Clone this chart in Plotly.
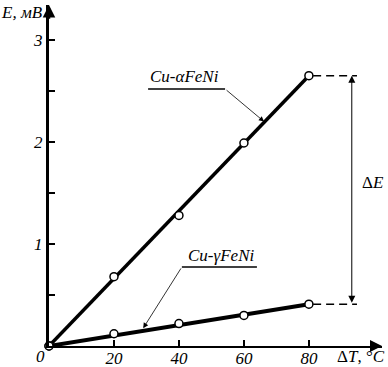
import plotly.graph_objects as go

# Data
dT = [0, 20, 40, 60, 80]
E_alpha = [0.0, 0.68, 1.28, 1.99, 2.65]
E_gamma = [0.0, 0.12, 0.22, 0.30, 0.41]
fit_x = [0, 80]
fit_alpha = [0.0, 2.65]
fit_gamma = [0.0, 0.41]
x_ticks = [20, 40, 60, 80]
y_ticks = [1, 2, 3]
y_minor = [0.5, 1.5, 2.5]
label_alpha = "Cu-αFeNi"
label_gamma = "Cu-γFeNi"

FONT = "Liberation Serif"
X_MAX = 102.5
Y_MAX = 3.343

fig = go.Figure()

# fitted thick lines
fig.add_trace(go.Scatter(x=fit_x, y=fit_alpha, mode="lines",
                         line=dict(color="black", width=3.5), hoverinfo="skip"))
fig.add_trace(go.Scatter(x=fit_x, y=fit_gamma, mode="lines",
                         line=dict(color="black", width=4), hoverinfo="skip"))
# measured points
for ys in (E_alpha, E_gamma):
    fig.add_trace(go.Scatter(x=dT, y=ys, mode="markers", cliponaxis=False,
                             marker=dict(symbol="circle", size=8, color="white",
                                         line=dict(color="black", width=1.5))))

x_end = 94.8
x_arr = 93.2
# dashed extensions
for v in (fit_alpha[-1], fit_gamma[-1]):
    fig.add_shape(type="line", x0=fit_x[-1] + 1.3, x1=x_end, y0=v, y1=v,
                  line=dict(color="black", width=1.5, dash="8px,5px"))

# underlines for labels
fig.add_shape(type="line", x0=30.5, x1=54.2, y0=2.52, y1=2.52, line=dict(color="black", width=1.5))
fig.add_shape(type="line", x0=40.9, x1=64.0, y0=0.775, y1=0.775, line=dict(color="black", width=1.5))

ann = []
# leader arrows
ann.append(dict(x=66.2, y=2.20, ax=54.2, ay=2.52, xref="x", yref="y", axref="x", ayref="y",
                text="", showarrow=True, arrowhead=2, arrowsize=1.3, arrowwidth=0.8, arrowcolor="black"))
ann.append(dict(x=29.0, y=0.175, ax=40.9, ay=0.775, xref="x", yref="y", axref="x", ayref="y",
                text="", showarrow=True, arrowhead=2, arrowsize=1.3, arrowwidth=0.8, arrowcolor="black"))
# double arrow ΔE
ann.append(dict(x=x_arr, y=fit_alpha[-1], ax=x_arr, ay=fit_gamma[-1], xref="x", yref="y", axref="x", ayref="y",
                text="", showarrow=True, arrowhead=2, arrowsize=1.4, arrowwidth=1, arrowcolor="black",
                startarrowhead=2, startarrowsize=1.4, arrowside="end+start"))
# axis arrows
ann.append(dict(x=0, y=Y_MAX, ax=0, ay=Y_MAX - 0.15, xref="x", yref="y", axref="x", ayref="y",
                text="", showarrow=True, arrowhead=2, arrowsize=1.0, arrowwidth=2.5, arrowcolor="black"))
ann.append(dict(x=X_MAX, y=0, ax=X_MAX - 4, ay=0, xref="x", yref="y", axref="x", ayref="y",
                text="", showarrow=True, arrowhead=2, arrowsize=1.2, arrowwidth=2, arrowcolor="black"))
# labels
def txt(x, y, t, ref="x", italic=True):
    ann.append(dict(x=x, y=y, xref=ref if ref != "x" else "x", yref="paper" if ref == "paper" else "y",
                    text=t, showarrow=False, xanchor="center", yanchor="middle",
                    font=dict(family=FONT, size=17, color="black", style="italic" if italic else "normal")))

txt(41.8, 2.64, label_alpha)
txt(53.0, 0.89, label_gamma)
txt(99.7, 1.6, "Δ<i>E</i>", italic=False)
txt(-0.027, -0.032, "<i>0</i>", ref="paper", italic=False)
txt(-0.08, 0.979, "<i>E, мВ</i>", ref="paper", italic=False)
txt(0.937, -0.032, "Δ<i>T</i>, °<i>C</i>", ref="paper", italic=False)

fig.update_layout(
    width=388, height=367,
    margin=dict(l=49, r=6, t=5, b=21, autoexpand=False),
    paper_bgcolor="white", plot_bgcolor="white",
    showlegend=False,
    annotations=ann,
    xaxis=dict(range=[0, X_MAX], showgrid=False, zeroline=False, showline=True, automargin=False,
               linecolor="black", linewidth=2, ticks="inside", ticklen=6, tickwidth=2,
               tickcolor="black", tickvals=x_ticks, ticktext=[str(v) for v in x_ticks],
               ticklabelstandoff=-4,
               tickfont=dict(family=FONT, size=17, color="black", style="italic")),
    yaxis=dict(range=[0, Y_MAX], showgrid=False, zeroline=False, showline=True, automargin=False,
               linecolor="black", linewidth=3, ticks="inside", ticklen=6, tickwidth=2,
               tickcolor="black", tickvals=y_ticks, ticktext=[str(v) for v in y_ticks],
               tickfont=dict(family=FONT, size=17, color="black", style="italic"),
               minor=dict(tickvals=y_minor, ticks="inside", ticklen=6, tickwidth=2, tickcolor="black")),
)

fig.write_html("out.html", config={"displayModeBar": False},
               post_script="document.body.style.margin='0';document.body.style.padding='0';")
